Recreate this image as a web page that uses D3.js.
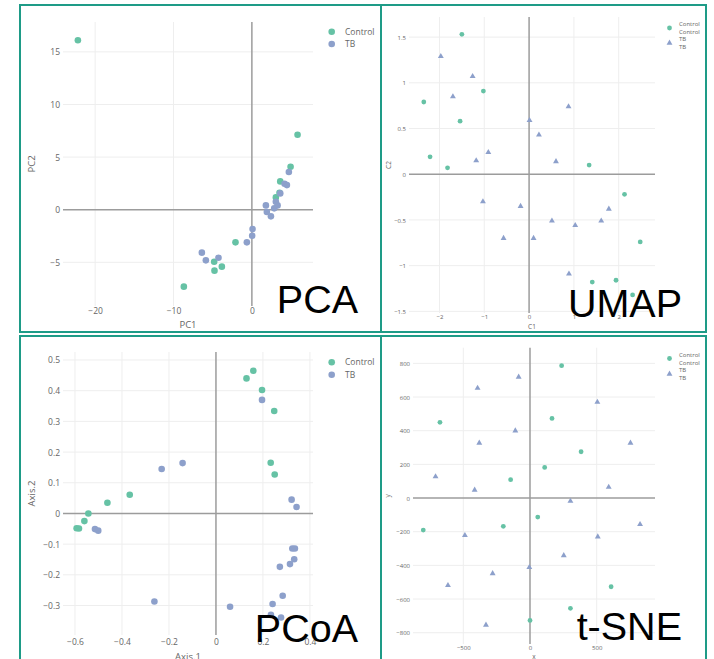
<!DOCTYPE html>
<html>
<head>
<meta charset="utf-8">
<script src="https://cdn.jsdelivr.net/npm/d3@7"></script>
<style>
  body { margin: 0; background: #fff; }
</style>
</head>
<body>
<script>
// Colors
const controlColor = '#66c2a5';
const tbColor = '#8da0cb';
const frameColor = '#1e9b87';
const gridColor = '#eeeeee';
const zeroColor = '#9c9c9c';
const textColor = '#666';

// PCA (PC1, PC2)
const pcaControl = [
  [-22.2, 16.1], [5.83, 7.12], [4.94, 4.08], [3.62, 2.69], [3.53, 1.61], [3.06, 1.17],
  [-2.09, -3.10], [-4.81, -4.94], [-4.77, -5.79], [-3.83, -5.41], [-8.68, -7.31]
];
const pcaTb = [
  [4.72, 3.58], [4.17, 2.47], [4.47, 2.34], [3.62, 1.55], [3.06, 0.76], [1.79, 0.41],
  [3.28, 0.41], [2.85, 0.13], [1.91, -0.22], [2.43, -0.63], [0.09, -1.84], [0.04, -2.47],
  [-0.64, -3.10], [-6.38, -4.08], [-5.87, -4.81], [-4.26, -4.56]
];
const pcaXTicks = [-20, -10, 0];
const pcaYTicks = [-5, 0, 5, 10, 15];

// UMAP (C1, C2)
const umapControl = [
  [-1.50, 1.53], [-2.35, 0.79], [-1.02, 0.91], [-1.54, 0.58], [-2.21, 0.19], [-1.82, 0.07],
  [1.34, 0.10], [2.13, -0.22], [2.48, -0.74], [1.41, -1.18], [1.94, -1.16], [2.31, -1.32]
];
const umapTb = [
  [-1.97, 1.29], [-1.26, 1.07], [-1.70, 0.85], [0.88, 0.74], [0.01, 0.59], [0.22, 0.43],
  [-0.91, 0.24], [-1.18, 0.15], [0.60, 0.14], [-1.03, -0.30], [-0.19, -0.35], [0.51, -0.51],
  [1.78, -0.38], [1.61, -0.51], [1.03, -0.56], [-0.57, -0.70], [0.10, -0.70], [0.89, -1.09]
];
const umapXTicks = [-2, -1, 0, 1, 2];
const umapYTicks = [-1.5, -1, -0.5, 0, 0.5, 1, 1.5];

// PCoA (Axis.1, Axis.2)
const pcoaControl = [
  [0.159, 0.465], [0.130, 0.440], [0.196, 0.402], [0.248, 0.334], [0.233, 0.165], [0.250, 0.127],
  [-0.367, 0.061], [-0.462, 0.035], [-0.543, 0.0], [-0.560, -0.025], [-0.593, -0.048], [-0.583, -0.049]
];
const pcoaTb = [
  [0.196, 0.370], [-0.142, 0.164], [-0.231, 0.145], [0.322, 0.045], [0.343, 0.021],
  [-0.515, -0.051], [-0.501, -0.056], [0.325, -0.114], [0.336, -0.114], [0.333, -0.149],
  [0.315, -0.165], [0.272, -0.174], [0.284, -0.268], [0.241, -0.295], [-0.262, -0.287],
  [0.060, -0.304], [0.234, -0.330], [0.277, -0.339]
];
const pcoaXTicks = [-0.6, -0.4, -0.2, 0, 0.2, 0.4];
const pcoaYTicks = [-0.3, -0.2, -0.1, 0, 0.1, 0.2, 0.3, 0.4, 0.5];

// t-SNE (x, y)
const tsneControl = [
  [237, 786], [-675, 450], [165, 473], [383, 275], [110, 182], [-145, 109],
  [58, -113], [-200, -168], [-800, -190], [608, -527], [303, -655], [0, -727]
];
const tsneTb = [
  [-85, 719], [-393, 653], [505, 570], [-110, 400], [-380, 327], [753, 327],
  [-708, 127], [-415, 48], [590, 65], [303, -18], [825, -156], [-488, -222],
  [508, -230], [253, -341], [-5, -412], [-280, -448], [-615, -519], [-330, -754]
];
const tsneXTicks = [-500, 0, 500];
const tsneYTicks = [-800, -600, -400, -200, 0, 200, 400, 600, 800];

const fmt = d3.format('');

const svg = d3.select('body').append('svg')
  .attr('width', 714)
  .attr('height', 659)
  .attr('font-family', "'Open Sans', sans-serif");

const panels = [
  {
    left: 63, right: 313, top: 22, bottom: 306,
    xDomain: [-24.1, 7.8], yDomain: [-9.15, 17.84],
    xTicks: pcaXTicks, yTicks: pcaYTicks,
    xTitle: 'PC1', yTitle: 'PC2', xTitleY: 325, yTitleX: 32, xLabelY: 311,
    tickSize: 8.5, titleSize: 9.5, legendSize: 8.5,
    series: [
      { data: pcaControl, color: controlColor, shape: 'circle', r: 3.3 },
      { data: pcaTb, color: tbColor, shape: 'circle', r: 3.3 }
    ],
    legend: { x: 331.7, y: 31.7, step: 12.3, lines: [['Control'], ['TB']], textX: 345 },
    label: 'PCA', labelX: 358, labelY: 313
  },
  {
    left: 409, right: 655, top: 17, bottom: 313,
    xDomain: [-2.68, 2.81], yDomain: [-1.518, 1.72],
    xTicks: umapXTicks, yTicks: umapYTicks,
    xTitle: 'C1', yTitle: 'C2', xTitleY: 327, yTitleX: 388.5, xLabelY: 316.5,
    tickSize: 6, titleSize: 6.5, legendSize: 6,
    series: [
      { data: umapControl, color: controlColor, shape: 'circle', r: 2.4 },
      { data: umapTb, color: tbColor, shape: 'triangle', r: 2.4 }
    ],
    legend: { x: 669.5, y: 28, step: 15, lines: [['Control', 'Control'], ['TB', 'TB']], textX: 679 },
    label: 'UMAP', labelX: 682, labelY: 316.7
  },
  {
    left: 63, right: 313, top: 352, bottom: 635,
    xDomain: [-0.651, 0.413], yDomain: [-0.396, 0.526],
    xTicks: pcoaXTicks, yTicks: pcoaYTicks,
    xTitle: 'Axis.1', yTitle: 'Axis.2', xTitleY: 656.5, yTitleX: 32, xLabelY: 641.7,
    tickSize: 8.5, titleSize: 9.5, legendSize: 8.5,
    series: [
      { data: pcoaControl, color: controlColor, shape: 'circle', r: 3.3 },
      { data: pcoaTb, color: tbColor, shape: 'circle', r: 3.3 }
    ],
    legend: { x: 331.7, y: 362.3, step: 12.4, lines: [['Control'], ['TB']], textX: 345 },
    label: 'PCoA', labelX: 358, labelY: 641.7
  },
  {
    left: 413, right: 655, top: 347.7, bottom: 644,
    xDomain: [-877, 937], yDomain: [-867, 893],
    xTicks: tsneXTicks, yTicks: tsneYTicks,
    xTitle: 'x', yTitle: 'y', xTitleY: 656.5, yTitleX: 387.5, xLabelY: 648.3,
    tickSize: 6, titleSize: 6.5, legendSize: 6,
    series: [
      { data: tsneControl, color: controlColor, shape: 'circle', r: 2.4 },
      { data: tsneTb, color: tbColor, shape: 'triangle', r: 2.4 }
    ],
    legend: { x: 669.5, y: 358.5, step: 15.5, lines: [['Control', 'Control'], ['TB', 'TB']], textX: 679 },
    label: 't-SNE', labelX: 682, labelY: 640
  }
];

function marker(sel, s) {
  if (s.shape === 'circle') {
    return sel.append('circle').attr('r', s.r).attr('fill', s.color);
  }
  return sel.append('path')
    .attr('d', d3.symbol(d3.symbolTriangle, s.r * s.r * 2.6)())
    .attr('fill', s.color);
}

function drawPanel(p) {
  const x = d3.scaleLinear().domain(p.xDomain).range([p.left, p.right]);
  const y = d3.scaleLinear().domain(p.yDomain).range([p.bottom, p.top]);
  const g = svg.append('g');

  // grid
  g.append('g')
    .attr('stroke', gridColor)
    .selectAll('line')
    .data(p.xTicks.filter(d => d !== 0))
    .join('line')
    .attr('x1', d => x(d)).attr('x2', d => x(d))
    .attr('y1', p.top).attr('y2', p.bottom);
  g.append('g')
    .attr('stroke', gridColor)
    .selectAll('line')
    .data(p.yTicks.filter(d => d !== 0))
    .join('line')
    .attr('x1', p.left).attr('x2', p.right)
    .attr('y1', d => y(d)).attr('y2', d => y(d));

  // zero lines
  g.append('line')
    .attr('x1', x(0)).attr('x2', x(0))
    .attr('y1', p.top).attr('y2', p.bottom)
    .attr('stroke', zeroColor).attr('stroke-width', 1.5);
  g.append('line')
    .attr('x1', p.left).attr('x2', p.right)
    .attr('y1', y(0)).attr('y2', y(0))
    .attr('stroke', zeroColor).attr('stroke-width', 1.5);

  // tick labels
  const xAxis = g.append('g')
    .attr('transform', `translate(0,${p.xLabelY})`)
    .call(d3.axisBottom(x).tickValues(p.xTicks).tickSize(0).tickPadding(0).tickFormat(fmt));
  const yAxis = g.append('g')
    .attr('transform', `translate(${p.left - 3},0)`)
    .call(d3.axisLeft(y).tickValues(p.yTicks).tickSize(0).tickPadding(0).tickFormat(fmt));
  [xAxis, yAxis].forEach(a => {
    a.select('.domain').remove();
    a.selectAll('text')
      .attr('y', 0)
      .attr('dy', '0.35em')
      .attr('fill', textColor)
      .attr('font-family', "'Open Sans', sans-serif")
      .attr('font-size', p.tickSize);
  });

  // axis titles
  g.append('text')
    .attr('x', (p.left + p.right) / 2)
    .attr('y', p.xTitleY)
    .attr('dy', '0.35em')
    .attr('text-anchor', 'middle')
    .attr('fill', textColor)
    .attr('font-size', p.titleSize)
    .text(p.xTitle);
  g.append('text')
    .attr('transform', `translate(${p.yTitleX},${(p.top + p.bottom) / 2}) rotate(-90)`)
    .attr('dy', '0.35em')
    .attr('text-anchor', 'middle')
    .attr('fill', textColor)
    .attr('font-size', p.titleSize)
    .text(p.yTitle);

  // points
  p.series.forEach(s => {
    const pts = g.append('g')
      .selectAll('g')
      .data(s.data)
      .join('g')
      .attr('transform', d => `translate(${x(d[0])},${y(d[1])})`);
    marker(pts, s);
  });

  // legend
  p.series.forEach((s, i) => {
    const cy = p.legend.y + i * p.legend.step;
    const item = g.append('g').attr('transform', `translate(${p.legend.x},${cy})`);
    marker(item, s);
    const lines = p.legend.lines[i];
    const lh = p.legendSize * 1.3;
    lines.forEach((t, j) => {
      g.append('text')
        .attr('x', p.legend.textX)
        .attr('y', cy + (j - (lines.length - 1) / 2) * lh)
        .attr('dy', '0.35em')
        .attr('fill', textColor)
        .attr('font-size', p.legendSize)
        .text(t);
    });
  });

  // big method label
  g.append('text')
    .attr('x', p.labelX)
    .attr('y', p.labelY)
    .attr('text-anchor', 'end')
    .attr('font-family', "'Liberation Sans', Arial, sans-serif")
    .attr('font-size', 39.5)
    .attr('fill', '#000')
    .text(p.label);
}

panels.forEach(drawPanel);

// panel frames
const frames = [
  [20, 5, 361, 327],
  [381, 5, 325, 327],
  [20, 336, 361, 330],
  [381, 336, 325, 330]
];
svg.append('g')
  .selectAll('rect')
  .data(frames)
  .join('rect')
  .attr('x', d => d[0]).attr('y', d => d[1])
  .attr('width', d => d[2]).attr('height', d => d[3])
  .attr('fill', 'none')
  .attr('stroke', frameColor)
  .attr('stroke-width', 2);
</script>
</body>
</html>
